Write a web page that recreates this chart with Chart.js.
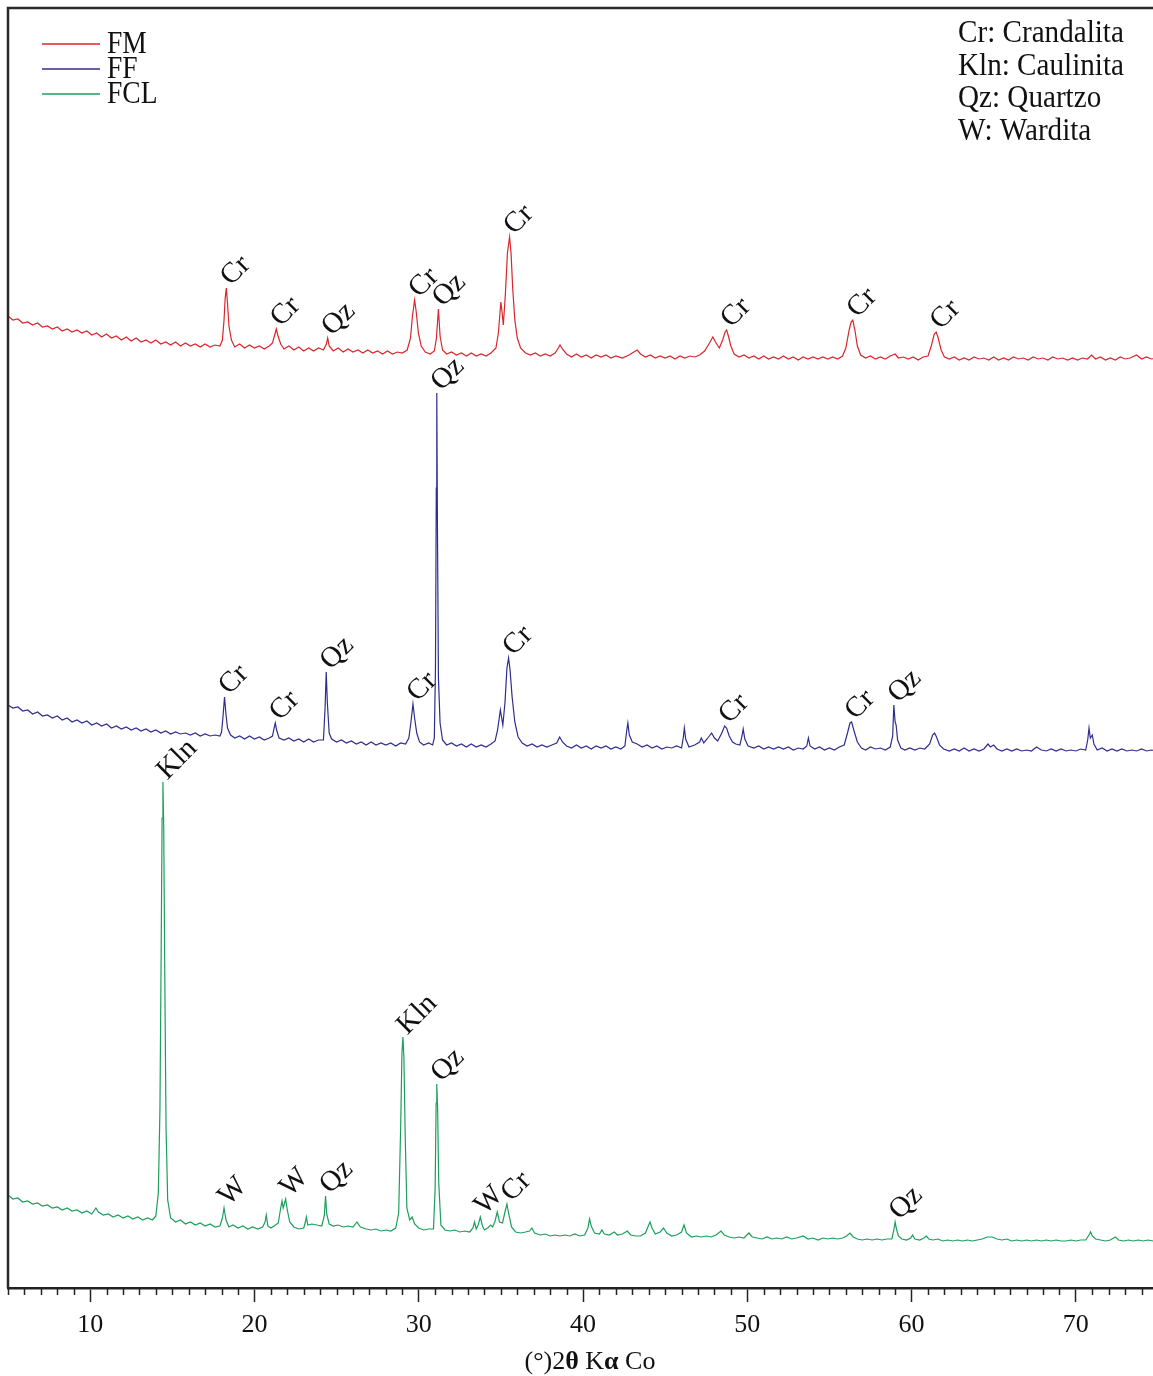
<!DOCTYPE html>
<html>
<head>
<meta charset="utf-8">
<title>DRX FM FF FCL</title>
<script src="https://cdn.jsdelivr.net/npm/chart.js@4.4.0/dist/chart.umd.min.js"></script>
<style>
    html, body { margin: 0; padding: 0; background: #fff; overflow: hidden; }
    #wrap { width: 1170px; height: 1376px; }
</style>
</head>
<body>
<div id="wrap"><canvas id="xrd" width="1170" height="1376"></canvas></div>
<script>
// ===== DATA (2θ in degrees, stacked intensity in arbitrary units) =====

const seriesNames = ["FM", "FF", "FCL"];
const seriesColors = ["#d8262b", "#2e2d8e", "#1c9e5c"];

const fmPoints = [
    [5.0, 972], [5.3, 968], [5.6, 969], [5.9, 965], [6.2, 966], [6.5, 963], [6.8, 965], [7.1, 961], [7.4, 962], [7.7, 959],
    [8.0, 961], [8.3, 957], [8.6, 959], [8.9, 956], [9.2, 958], [9.5, 955], [9.8, 957], [10.1, 953], [10.4, 955], [10.7, 951],
    [11.0, 954], [11.3, 950], [11.6, 952], [11.9, 948], [12.2, 951], [12.5, 947], [12.8, 950], [13.1, 946], [13.4, 948], [13.7, 945],
    [14.0, 948], [14.3, 944], [14.6, 946], [14.9, 943], [15.2, 946], [15.5, 942], [15.8, 945], [16.1, 942], [16.4, 944], [16.7, 941],
    [17.0, 944], [17.3, 941], [17.6, 943], [17.9, 942], [18.05, 948], [18.15, 968], [18.22, 990], [18.29, 1000], [18.36, 985], [18.45, 962],
    [18.6, 948], [18.8, 941], [19.1, 944], [19.4, 940], [19.7, 943], [20.0, 940], [20.3, 942], [20.6, 939], [20.9, 942], [21.1, 945],
    [21.25, 954], [21.33, 959], [21.42, 953], [21.6, 944], [21.8, 939], [22.1, 942], [22.4, 938], [22.7, 941], [23.0, 937], [23.3, 940],
    [23.6, 937], [23.9, 940], [24.2, 938], [24.38, 944], [24.46, 950], [24.55, 942], [24.8, 937], [25.1, 940], [25.4, 936], [25.7, 939],
    [26.0, 936], [26.3, 938], [26.6, 935], [26.9, 938], [27.2, 935], [27.5, 937], [27.8, 934], [28.1, 937], [28.4, 934], [28.7, 936],
    [29.0, 935], [29.3, 938], [29.5, 950], [29.62, 972], [29.75, 988], [29.85, 976], [29.98, 955], [30.15, 942], [30.4, 936], [30.7, 934],
    [30.95, 937], [31.08, 950], [31.2, 979], [31.3, 952], [31.45, 938], [31.7, 934], [32.0, 936], [32.3, 933], [32.6, 935], [32.9, 932],
    [33.2, 935], [33.5, 932], [33.8, 934], [34.1, 932], [34.4, 935], [34.7, 940], [34.85, 955], [35.0, 986], [35.08, 975], [35.15, 963],
    [35.28, 995], [35.4, 1035], [35.53, 1051], [35.62, 1035], [35.72, 1000], [35.85, 968], [36.0, 950], [36.2, 940], [36.5, 935], [36.8, 933],
    [37.1, 935], [37.4, 932], [37.7, 934], [38.0, 932], [38.3, 935], [38.5, 940], [38.6, 943], [38.75, 939], [39.0, 934], [39.3, 931],
    [39.6, 934], [39.9, 931], [40.2, 933], [40.5, 930], [40.8, 933], [41.1, 931], [41.4, 933], [41.7, 930], [42.0, 932], [42.4, 930],
    [42.8, 933], [43.1, 936], [43.3, 938], [43.5, 934], [43.8, 931], [44.1, 933], [44.4, 930], [44.7, 932], [45.0, 930], [45.3, 932],
    [45.6, 929], [45.9, 932], [46.2, 930], [46.5, 932], [46.8, 931], [47.1, 933], [47.4, 937], [47.7, 945], [47.9, 951], [48.1, 945],
    [48.3, 940], [48.5, 948], [48.65, 956], [48.74, 958], [48.85, 952], [49.0, 942], [49.2, 934], [49.5, 931], [49.8, 933], [50.1, 930],
    [50.4, 932], [50.7, 929], [51.0, 932], [51.3, 929], [51.6, 931], [51.9, 929], [52.2, 932], [52.5, 929], [52.8, 931], [53.1, 928],
    [53.4, 931], [53.7, 929], [54.0, 931], [54.3, 929], [54.6, 931], [54.9, 929], [55.2, 931], [55.5, 929], [55.8, 932], [56.0, 940],
    [56.2, 958], [56.32, 966], [56.42, 968], [56.55, 958], [56.7, 942], [56.9, 933], [57.2, 930], [57.5, 932], [57.8, 929], [58.1, 931],
    [58.4, 929], [58.7, 932], [59.0, 934], [59.2, 930], [59.5, 931], [59.8, 929], [60.1, 931], [60.4, 928], [60.7, 931], [61.0, 932],
    [61.2, 942], [61.38, 954], [61.5, 956], [61.62, 950], [61.8, 938], [62.0, 931], [62.3, 929], [62.6, 931], [62.9, 928], [63.2, 930],
    [63.5, 928], [63.8, 931], [64.1, 929], [64.4, 930], [64.7, 928], [65.0, 931], [65.3, 928], [65.6, 930], [65.9, 928], [66.2, 931],
    [66.5, 929], [66.8, 930], [67.1, 928], [67.4, 931], [67.7, 929], [68.0, 930], [68.3, 928], [68.6, 931], [68.9, 929], [69.2, 930],
    [69.5, 928], [69.8, 930], [70.1, 928], [70.4, 930], [70.7, 929], [70.96, 933], [71.2, 929], [71.5, 931], [71.8, 928], [72.1, 930],
    [72.4, 928], [72.7, 931], [73.0, 929], [73.3, 930], [73.7, 933], [74.0, 929], [74.3, 931], [74.6, 929], [75.0, 930]
];

const ffPoints = [
    [5.0, 583], [5.3, 580], [5.6, 581], [5.9, 577], [6.2, 578], [6.5, 574], [6.8, 576], [7.1, 572], [7.4, 573], [7.7, 570],
    [8.0, 572], [8.3, 568], [8.6, 570], [8.9, 566], [9.2, 568], [9.5, 565], [9.8, 567], [10.1, 563], [10.4, 565], [10.7, 562],
    [11.0, 564], [11.3, 560], [11.6, 562], [11.9, 559], [12.2, 561], [12.5, 558], [12.8, 560], [13.1, 557], [13.4, 559], [13.7, 556],
    [14.0, 558], [14.3, 555], [14.6, 557], [14.9, 554], [15.2, 556], [15.5, 554], [15.8, 555], [16.1, 553], [16.4, 555], [16.7, 552],
    [17.0, 554], [17.3, 552], [17.6, 553], [17.9, 552], [18.0, 556], [18.08, 570], [18.18, 591], [18.26, 575], [18.36, 560], [18.55, 553],
    [18.8, 550], [19.1, 552], [19.4, 549], [19.7, 552], [20.0, 549], [20.3, 551], [20.6, 548], [20.9, 550], [21.1, 552], [21.2, 560],
    [21.27, 565], [21.35, 558], [21.5, 550], [21.8, 548], [22.1, 550], [22.4, 547], [22.7, 549], [23.0, 546], [23.3, 549], [23.6, 546],
    [23.9, 548], [24.2, 548], [24.3, 580], [24.37, 616], [24.44, 585], [24.55, 555], [24.7, 549], [25.0, 546], [25.3, 548], [25.6, 545],
    [25.9, 547], [26.2, 544], [26.5, 546], [26.8, 543], [27.1, 546], [27.4, 543], [27.7, 545], [28.0, 543], [28.3, 545], [28.6, 542],
    [28.9, 545], [29.2, 544], [29.4, 550], [29.52, 565], [29.65, 584], [29.75, 570], [29.88, 555], [30.05, 546], [30.3, 543], [30.6, 545],
    [30.85, 543], [30.95, 550], [31.02, 620], [31.07, 800], [31.1, 895], [31.14, 760], [31.2, 610], [31.3, 565], [31.45, 548], [31.7, 543],
    [32.0, 545], [32.3, 542], [32.6, 544], [32.9, 541], [33.2, 544], [33.5, 541], [33.8, 543], [34.1, 541], [34.4, 544], [34.65, 547],
    [34.8, 558], [34.97, 578], [35.05, 570], [35.12, 563], [35.25, 585], [35.37, 620], [35.47, 630], [35.56, 618], [35.68, 592], [35.85, 566],
    [36.05, 551], [36.3, 545], [36.6, 542], [36.9, 544], [37.2, 541], [37.5, 543], [37.8, 541], [38.1, 543], [38.4, 545], [38.58, 551],
    [38.75, 546], [39.0, 542], [39.3, 540], [39.6, 543], [39.9, 540], [40.2, 542], [40.5, 539], [40.8, 542], [41.1, 540], [41.4, 542],
    [41.7, 539], [42.0, 541], [42.3, 539], [42.55, 542], [42.65, 556], [42.73, 565], [42.82, 553], [43.0, 546], [43.3, 544], [43.6, 541],
    [43.9, 543], [44.2, 540], [44.5, 542], [44.8, 539], [45.1, 541], [45.4, 540], [45.7, 542], [46.0, 540], [46.1, 550], [46.17, 560],
    [46.25, 549], [46.45, 541], [46.8, 543], [47.1, 546], [47.2, 550], [47.35, 545], [47.55, 549], [47.83, 555], [48.0, 550], [48.2, 547],
    [48.45, 555], [48.62, 562], [48.74, 560], [48.9, 552], [49.1, 546], [49.3, 544], [49.55, 543], [49.68, 552], [49.75, 559], [49.85, 549],
    [50.05, 542], [50.4, 540], [50.7, 542], [51.0, 539], [51.3, 541], [51.6, 539], [51.9, 541], [52.2, 539], [52.5, 541], [52.8, 538],
    [53.1, 540], [53.4, 539], [53.62, 542], [53.72, 550], [53.82, 542], [54.1, 539], [54.4, 541], [54.7, 538], [55.0, 540], [55.3, 538],
    [55.6, 541], [55.9, 543], [56.1, 555], [56.25, 565], [56.35, 566], [56.5, 557], [56.7, 546], [56.95, 540], [57.2, 538], [57.5, 541],
    [57.8, 539], [58.1, 540], [58.4, 538], [58.7, 541], [58.85, 552], [58.92, 583], [59.0, 566], [59.06, 563], [59.15, 548], [59.35, 540],
    [59.6, 538], [59.9, 540], [60.2, 538], [60.5, 540], [60.8, 539], [61.1, 544], [61.28, 553], [61.4, 555], [61.52, 551], [61.7, 543],
    [61.95, 539], [62.3, 537], [62.6, 539], [62.9, 537], [63.2, 540], [63.5, 537], [63.8, 539], [64.1, 537], [64.4, 539], [64.65, 544],
    [64.8, 541], [65.0, 543], [65.2, 539], [65.5, 537], [65.8, 539], [66.1, 537], [66.4, 539], [66.7, 537], [67.0, 538], [67.3, 537],
    [67.6, 541], [67.9, 538], [68.2, 537], [68.5, 539], [68.8, 537], [69.1, 539], [69.4, 537], [69.7, 538], [70.0, 537], [70.3, 539],
    [70.6, 538], [70.72, 548], [70.8, 560], [70.88, 550], [71.0, 553], [71.1, 544], [71.3, 538], [71.6, 540], [71.9, 537], [72.2, 539],
    [72.5, 537], [72.8, 539], [73.1, 537], [73.4, 538], [73.7, 537], [74.0, 539], [74.3, 537], [74.6, 538], [75.0, 537]
];

const fclPoints = [
    [5.0, 93], [5.3, 89], [5.6, 90], [5.9, 86], [6.2, 87], [6.5, 84], [6.8, 85], [7.1, 82], [7.4, 83], [7.7, 80],
    [8.0, 81], [8.3, 78], [8.6, 80], [8.9, 77], [9.2, 78], [9.5, 75], [9.8, 77], [10.1, 74], [10.35, 80], [10.5, 76],
    [10.8, 73], [11.1, 74], [11.4, 71], [11.7, 73], [12.0, 70], [12.3, 72], [12.6, 69], [12.9, 71], [13.2, 68], [13.5, 70],
    [13.8, 68], [14.0, 72], [14.15, 95], [14.25, 180], [14.32, 330], [14.38, 470], [14.43, 506], [14.48, 460], [14.54, 320], [14.62, 160],
    [14.72, 88], [14.9, 70], [15.2, 66], [15.5, 68], [15.8, 64], [16.1, 66], [16.4, 63], [16.7, 65], [17.0, 62], [17.3, 64],
    [17.6, 61], [17.9, 62], [18.05, 70], [18.15, 80], [18.27, 68], [18.45, 61], [18.7, 63], [19.0, 60], [19.3, 62], [19.6, 59],
    [19.9, 61], [20.2, 59], [20.5, 61], [20.65, 66], [20.72, 73], [20.82, 62], [21.0, 60], [21.2, 62], [21.45, 65], [21.6, 80],
    [21.68, 87], [21.75, 80], [21.82, 84], [21.9, 89], [22.0, 78], [22.15, 66], [22.4, 61], [22.7, 59], [23.0, 60], [23.1, 66],
    [23.16, 71], [23.25, 63], [23.5, 64], [23.8, 63], [24.1, 62], [24.25, 72], [24.33, 92], [24.4, 74], [24.55, 64], [24.8, 62],
    [25.1, 63], [25.4, 61], [25.7, 62], [26.0, 61], [26.24, 66], [26.45, 61], [26.8, 59], [27.1, 58], [27.4, 59], [27.7, 57],
    [28.0, 58], [28.3, 57], [28.6, 60], [28.78, 75], [28.9, 160], [28.98, 235], [29.04, 251], [29.1, 230], [29.18, 150], [29.28, 80],
    [29.45, 68], [29.6, 71], [29.75, 64], [30.0, 60], [30.3, 58], [30.6, 59], [30.9, 59], [31.0, 100], [31.06, 185], [31.1, 204],
    [31.15, 180], [31.22, 105], [31.35, 63], [31.6, 58], [31.9, 57], [32.2, 58], [32.5, 56], [32.8, 57], [33.1, 56], [33.3, 60],
    [33.4, 66], [33.5, 59], [33.62, 63], [33.75, 71], [33.88, 62], [34.0, 58], [34.2, 60], [34.38, 63], [34.5, 61], [34.65, 67],
    [34.78, 76], [34.92, 66], [35.1, 65], [35.25, 76], [35.37, 84], [35.48, 74], [35.65, 61], [35.9, 56], [36.2, 55], [36.5, 56],
    [36.75, 57], [36.89, 60], [37.05, 55], [37.4, 53], [37.7, 54], [38.0, 52], [38.3, 53], [38.6, 52], [38.9, 53], [39.2, 52],
    [39.5, 54], [39.8, 52], [40.1, 53], [40.3, 60], [40.4, 69], [40.5, 62], [40.7, 55], [41.0, 54], [41.15, 58], [41.3, 54],
    [41.6, 53], [41.9, 56], [42.1, 53], [42.4, 54], [42.7, 57], [42.9, 53], [43.2, 52], [43.5, 52], [43.8, 55], [44.0, 63],
    [44.08, 66], [44.2, 60], [44.4, 54], [44.7, 56], [44.9, 60], [45.1, 55], [45.4, 52], [45.7, 53], [46.0, 56], [46.15, 63],
    [46.3, 55], [46.6, 51], [46.9, 52], [47.2, 51], [47.5, 52], [47.8, 51], [48.1, 53], [48.4, 57], [48.6, 53], [48.9, 51],
    [49.2, 50], [49.5, 51], [49.8, 50], [50.1, 55], [50.3, 51], [50.6, 50], [50.9, 49], [51.2, 51], [51.5, 49], [51.8, 50],
    [52.1, 49], [52.4, 51], [52.7, 49], [53.0, 50], [53.4, 52], [53.7, 49], [54.0, 50], [54.3, 48], [54.6, 50], [54.9, 49],
    [55.2, 50], [55.5, 49], [55.8, 50], [56.05, 52], [56.25, 55], [56.45, 51], [56.7, 49], [57.0, 48], [57.3, 49], [57.6, 48],
    [57.9, 49], [58.2, 48], [58.5, 49], [58.8, 49], [58.92, 58], [59.0, 66], [59.08, 59], [59.2, 52], [59.4, 49], [59.7, 48],
    [59.95, 50], [60.06, 53], [60.2, 49], [60.5, 48], [60.75, 50], [60.9, 52], [61.05, 49], [61.3, 48], [61.6, 49], [61.9, 47],
    [62.2, 48], [62.5, 47], [62.8, 48], [63.1, 47], [63.4, 48], [63.7, 47], [64.0, 48], [64.3, 49], [64.6, 51], [64.9, 51],
    [65.2, 49], [65.5, 48], [65.8, 49], [66.1, 47], [66.4, 48], [66.7, 47], [67.0, 48], [67.3, 47], [67.6, 48], [67.9, 47],
    [68.2, 48], [68.5, 47], [68.8, 48], [69.1, 47], [69.4, 47], [69.7, 48], [70.0, 47], [70.3, 48], [70.6, 48], [70.8, 53],
    [70.9, 56], [71.0, 52], [71.2, 49], [71.5, 48], [71.8, 47], [72.1, 48], [72.4, 51], [72.6, 48], [72.9, 47], [73.2, 48],
    [73.5, 47], [73.8, 48], [74.1, 47], [74.4, 48], [74.7, 47], [75.0, 48]
];

// phase labels: [2θ, intensity of the peak top, text]
const fmLabels = [
    [18.29, 1000, "Cr"], [21.33, 959, "Cr"], [24.46, 950, "Qz"], [29.75, 988, "Cr"], [31.2, 979, "Qz"],
    [35.53, 1051, "Cr"], [48.74, 958, "Cr"], [56.42, 968, "Cr"], [61.5, 956, "Cr"]
];
const ffLabels = [
    [18.18, 591, "Cr"], [21.27, 565, "Cr"], [24.37, 616, "Qz"], [29.65, 584, "Cr"], [31.1, 895, "Qz"],
    [35.47, 630, "Cr"], [48.62, 562, "Cr"], [56.3, 566, "Cr"], [58.92, 583, "Qz"]
];
const fclLabels = [
    [14.43, 506, "Kln"], [18.15, 80, "W"], [21.9, 89, "W"], [24.33, 92, "Qz"], [29.04, 251, "Kln"],
    [31.1, 204, "Qz"], [33.75, 71, "W"], [35.37, 84, "Cr"], [59.0, 66, "Qz"]
];

const phaseKey = ["Cr: Crandalita", "Kln: Caulinita", "Qz: Quartzo", "W: Wardita"];
const xTickMin = 5;
const xTickMax = 75;
const xMajorStep = 10;

// ===== DRAWING HELPERS =====

const SERIF = "'Liberation Serif', 'Times New Roman', serif";

function drawText(ctx, text, x, y, size, sx, opts) {
    ctx.save();
    ctx.translate(x, y);
    ctx.scale(sx, 1);
    ctx.font = (opts && opts.bold ? "bold " : "") + size + "px " + SERIF;
    ctx.fillStyle = "#111";
    ctx.textAlign = (opts && opts.align) || "left";
    ctx.textBaseline = "middle";
    ctx.fillText(text, 0, 0);
    ctx.restore();
}

const decorPlugin = {
    id: "decor",
    afterDraw(chart) {
        const ctx = chart.ctx;
        const area = chart.chartArea;
        const xs = chart.scales.x;
        const ys = chart.scales.y;

        // frame (top + left; right side runs off the picture)
        ctx.save();
        ctx.strokeStyle = "#2a2a2a";
        ctx.lineWidth = 2.5;
        ctx.beginPath();
        ctx.moveTo(area.right, area.top);
        ctx.lineTo(area.left, area.top);
        ctx.lineTo(area.left, area.bottom);
        ctx.stroke();

        // minor ticks every degree
        ctx.lineWidth = 1.5;
        ctx.strokeStyle = "#222";
        for (let v = xTickMin; v <= xTickMax; v++) {
            if (v % xMajorStep === 0) continue;
            const px = Math.round(xs.getPixelForValue(v)) + 0.5;
            ctx.beginPath();
            ctx.moveTo(px, area.bottom);
            ctx.lineTo(px, area.bottom + 7);
            ctx.stroke();
        }
        ctx.restore();

        // rotated phase labels above the peaks
        [fmLabels, ffLabels, fclLabels].forEach((list) => {
            list.forEach(([deg, val, text]) => {
                const px = xs.getPixelForValue(deg);
                const py = ys.getPixelForValue(val);
                ctx.save();
                ctx.translate(px - 1, py - 7);
                ctx.rotate(-Math.PI / 4);
                ctx.font = "29px " + SERIF;
                ctx.fillStyle = "#111";
                ctx.textAlign = "left";
                ctx.textBaseline = "middle";
                ctx.fillText(text, 0, 0);
                ctx.restore();
            });
        });

        // series legend, top left
        seriesNames.forEach((name, i) => {
            const y = 44 + i * 25;
            ctx.save();
            ctx.strokeStyle = seriesColors[i];
            ctx.lineWidth = 1.3;
            ctx.beginPath();
            ctx.moveTo(42, y);
            ctx.lineTo(100, y);
            ctx.stroke();
            ctx.restore();
            drawText(ctx, name, 107, y + 1, 32, 0.86);
        });

        // phase key, top right
        phaseKey.forEach((line, i) => {
            drawText(ctx, line, 958, 34 + i * 32.5, 31, 0.94);
        });

        // axis title with bold theta / alpha
        const parts = [["(°)2", false], ["θ", true], [" K", false], ["α", true], [" Co", false]];
        ctx.save();
        let total = 0;
        const widths = parts.map(([t, b]) => {
            ctx.font = (b ? "bold " : "") + "26px " + SERIF;
            const w = ctx.measureText(t).width;
            total += w;
            return w;
        });
        ctx.restore();
        let cx = 590 - total / 2;
        parts.forEach(([t, b], i) => {
            drawText(ctx, t, cx, 1362, 26, 1, { bold: b });
            cx += widths[i];
        });
    }
};

// ===== CHART =====

const seriesPoints = [fmPoints, ffPoints, fclPoints];

new Chart(document.getElementById("xrd"), {
    type: "line",
    data: {
        datasets: seriesNames.map((name, i) => ({
            label: name,
            data: seriesPoints[i].map((p) => ({ x: p[0], y: p[1] })),
            borderColor: seriesColors[i],
            borderWidth: 1.2,
            pointRadius: 0,
            tension: 0,
            fill: false,
        })),
    },
    options: {
        responsive: false,
        animation: false,
        devicePixelRatio: 1,
        layout: { padding: { left: 8, top: 8, right: 12, bottom: 0 } },
        plugins: {
            legend: { display: false },
            tooltip: { enabled: false },
        },
        scales: {
            x: {
                type: "linear",
                min: xTickMin,
                max: xTickMax,
                afterFit: (scale) => { scale.height = 88; },
                border: { display: true, color: "#222", width: 2.5 },
                grid: {
                    drawOnChartArea: false,
                    drawTicks: true,
                    tickLength: 14,
                    tickWidth: 1.5,
                    tickColor: (c) => (c.tick && Math.round(c.tick.value) % xMajorStep === 0 ? "#222" : "rgba(0,0,0,0)"),
                },
                ticks: {
                    stepSize: 1,
                    autoSkip: false,
                    maxRotation: 0,
                    padding: 8,
                    color: "#111",
                    font: { family: SERIF, size: 26 },
                    callback: (v) => (Math.round(v) % xMajorStep === 0 ? String(Math.round(v)) : ""),
                },
            },
            y: { display: false, min: 0, max: 1280 },
        },
    },
    plugins: [decorPlugin],
});
</script>
</body>
</html>
